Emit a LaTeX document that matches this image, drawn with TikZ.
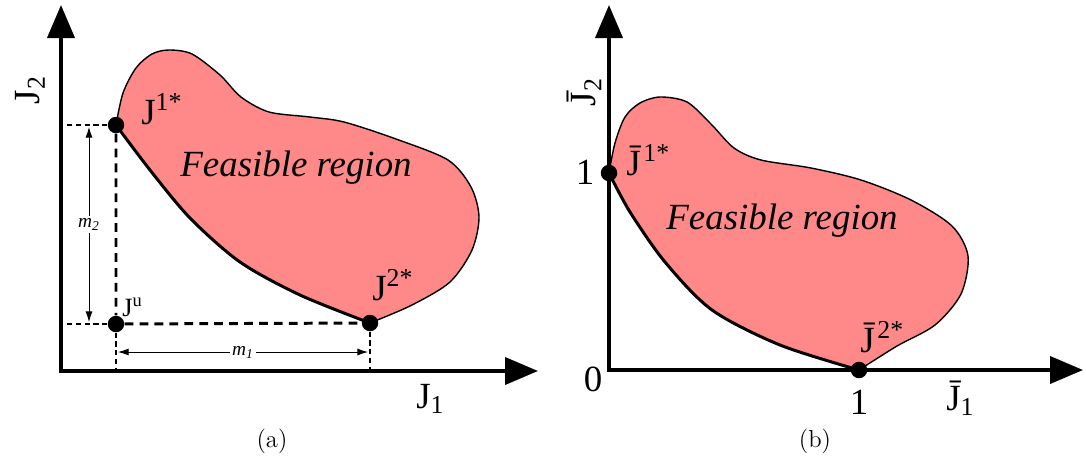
\documentclass[tikz,border=0pt]{standalone}
\usepackage{fontspec}
\newfontfamily\tnr{Liberation Serif}
\usetikzlibrary{arrows.meta}
\definecolor{feas}{RGB}{255,136,136}
\tikzset{
  axis/.style={line width=2.2pt, line join=miter,
    {Triangle[length=0.66cm,width=0.54cm]}-{Triangle[length=0.66cm,width=0.54cm]}},
  dot/.style={circle, fill=black, inner sep=0pt, minimum size=0.33cm},
  front/.style={line width=1.7pt},
  rim/.style={line width=0.8pt},
  bigdash/.style={line width=1.7pt, dash pattern=on 5pt off 3.5pt},
  smalldash/.style={line width=0.6pt, dash pattern=on 3pt off 2pt},
  dim/.style={line width=0.5pt, {Latex[length=6pt,width=4pt]}-{Latex[length=6pt,width=4pt]}},
  lbl/.style={inner sep=0pt, font=\tnr\fontsize{21}{24}\selectfont},
  mlbl/.style={fill=white, inner sep=1.5pt, font=\tnr\fontsize{11}{13}\selectfont\itshape},
  caption/.style={font=\fontsize{14}{16}\selectfont}
}
\newcommand{\Jbar}{J^^^^0304\kern1.5pt}
\begin{document}
\begin{tikzpicture}[x=0.02cm, y=-0.02cm]
\useasboundingbox (0,0) rectangle (1086,468);

% (a) original objectives
\coordinate (Oa) at (61,371);
\coordinate (ya) at (61,5);
\coordinate (xa) at (538,371);
\coordinate (p1) at (116,125);
\coordinate (p2) at (370,323);
\coordinate (pu) at (116,324);

\fill[feas] plot[smooth] coordinates {(p1) (123,93) (136,68) (152,54) (169,50) (192,54) (220,75)
    (241,97) (269,112) (310,117) (344,122) (396,139) (448,160) (471,187) (479,217) (472,250)
    (450,282) (412,305) (p2)}
  -- plot[smooth] coordinates {(p2) (300,295) (240,262) (190,218) (150,170) (p1)} -- cycle;
\draw[rim] plot[smooth] coordinates {(p1) (123,93) (136,68) (152,54) (169,50) (192,54) (220,75)
    (241,97) (269,112) (310,117) (344,122) (396,139) (448,160) (471,187) (479,217) (472,250)
    (450,282) (412,305) (p2)};
\draw[front] plot[smooth] coordinates {(p2) (300,295) (240,262) (190,218) (150,170) (p1)};

\draw[axis] (ya) -- (Oa) -- (xa);

\node[dot] (J1) at (p1) {};
\node[dot] (J2) at (p2) {};
\node[dot] (Ju) at (pu) {};

\draw[bigdash] (J1) -- (Ju) -- (J2);
\draw[smalldash] (J1) -- (J1 -| Oa);
\draw[smalldash] (Ju) -- (Ju -| Oa);
\draw[smalldash] (Ju) -- (Ju |- Oa);
\draw[smalldash] (J2) -- (J2 |- Oa);

\coordinate (m2top) at (89,127);
\coordinate (m2bot) at (89,322);
\coordinate (m1lft) at (118,352);
\coordinate (m1rgt) at (368,352);
\draw[dim] (m2top) -- node[mlbl] {m\textsubscript{2}} (m2bot);
\draw[dim] (m1lft) -- node[mlbl] {m\textsubscript{1}} (m1rgt);

\node[lbl, anchor=base west] (L1) at (141,124) {J\textsuperscript{1*}};
\node[lbl, anchor=base west] (L2) at (372,300) {J\textsuperscript{2*}};
\node[lbl, anchor=base west, font=\tnr\fontsize{15}{17}\selectfont] (Lu) at (122,316) {J\textsuperscript{u}};
\node[lbl, anchor=base, font=\tnr\fontsize{21}{24}\selectfont\itshape] (fra) at (296,176) {Feasible region};
\node[lbl, anchor=base west] (xla) at (416,408) {J\textsubscript{1}};
\node[lbl, rotate=90] (yla) at (30,90) {J\textsubscript{2}};
\node[caption] (capa) at (272,441) {(a)};

% (b) normalized objectives
\coordinate (Ob) at (609,370);
\coordinate (yb) at (609,5);
\coordinate (xb) at (1083,370);
\coordinate (q1) at (609,173);
\coordinate (q2) at (859,370);

\fill[feas] plot[smooth] coordinates {(q1) (615,143) (625,117) (640,103) (660,97) (687,102)
    (711,124) (734,148) (761,160) (811,168) (861,180) (911,200) (952,226) (968,256) (961,294)
    (935,325) (897,346) (q2)}
  -- plot[smooth] coordinates {(q2) (780,345) (712,310) (665,262) (630,212) (q1)} -- cycle;
\draw[rim] plot[smooth] coordinates {(q1) (615,143) (625,117) (640,103) (660,97) (687,102)
    (711,124) (734,148) (761,160) (811,168) (861,180) (911,200) (952,226) (968,256) (961,294)
    (935,325) (897,346) (q2)};
\draw[front] plot[smooth] coordinates {(q2) (780,345) (712,310) (665,262) (630,212) (q1)};

\draw[axis] (yb) -- (Ob) -- (xb);

\node[dot] (K1) at (q1) {};
\node[dot] (K2) at (q2) {};

\node[lbl, anchor=base west] (M1) at (626,175) {\Jbar\textsuperscript{1*}};
\node[lbl, anchor=base west] (M2) at (860,352) {\Jbar\textsuperscript{2*}};
\node[lbl, anchor=base, font=\tnr\fontsize{21}{24}\selectfont\itshape] (frb) at (782,229) {Feasible region};
\node[lbl] (one_y) at (585,172) {1};
\node[lbl] (zero) at (593,379) {0};
\node[lbl] (one_x) at (859,402) {1};
\node[lbl, anchor=base west] (xlb) at (946,410) {J^^^^0304\textsubscript{1}};
\node[lbl, rotate=90] (ylb) at (584,92) {J^^^^0304\textsubscript{2}};
\node[caption] (capb) at (815,441) {(b)};
\end{tikzpicture}
\end{document}
